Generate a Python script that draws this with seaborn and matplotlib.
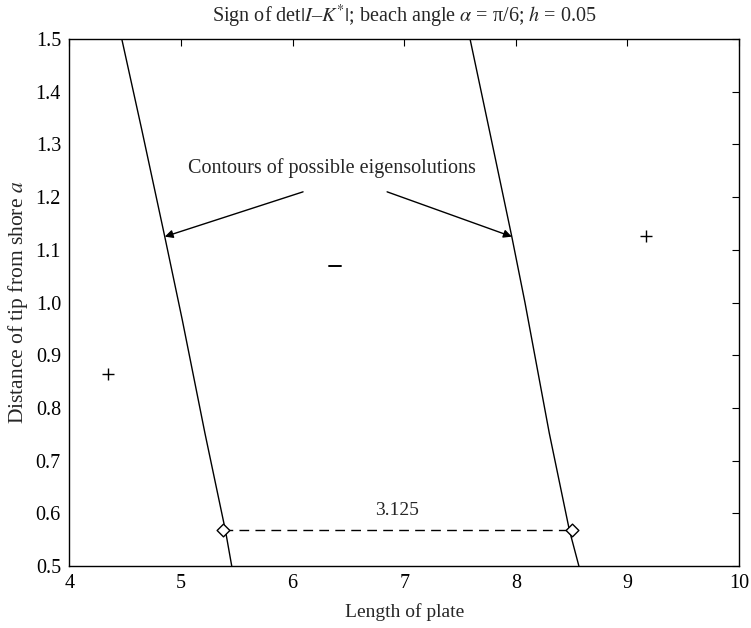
import matplotlib
matplotlib.use("Agg")
import matplotlib.pyplot as plt
import seaborn as sns
import pandas as pd

# Contours where det|I-K*| changes sign (length of plate vs tip distance)
left_a = [1.5, 1.327, 1.125, 0.967, 0.752, 0.568, 0.5]
left_len = [4.470, 4.650, 4.855, 5.012, 5.215, 5.398, 5.455]
right_a = [1.5, 1.32, 1.125, 1.0, 0.752, 0.568, 0.5]
right_len = [7.590, 7.770, 7.964, 8.082, 8.300, 8.480, 8.565]

# Spacing between the two eigensolutions at a fixed tip distance
gap_a = 0.568
gap_start = 5.375
gap_width = 3.125

# Sign markers of the determinant in each region
sign_len = [4.35, 9.17]
sign_a = [0.864, 1.126]
minus_len = 6.38
minus_a = 1.07

sns.set_theme(style="white")
plt.rcParams["font.family"] = ["Liberation Serif", "DejaVu Serif"]
plt.rcParams["mathtext.fontset"] = "stix"

fig = plt.figure(figsize=(7.51, 6.28), dpi=100)
ax = fig.add_axes([0.0923, 0.0987, 0.8918, 0.8392])

contours = pd.concat([
    pd.DataFrame({"length": left_len, "a": left_a, "branch": "left"}),
    pd.DataFrame({"length": right_len, "a": right_a, "branch": "right"}),
])
sns.lineplot(data=contours, x="length", y="a", units="branch", estimator=None,
             sort=False, color="black", lw=1.0, ax=ax, legend=False)

gap_x = [gap_start, gap_start + gap_width]
ax.plot(gap_x, [gap_a, gap_a], color="black", lw=1.0, ls=(0, (7, 4.5)))
sns.scatterplot(x=gap_x, y=[gap_a, gap_a], marker="D", s=42, facecolor="white",
                edgecolor="black", linewidth=1.0, ax=ax, zorder=5)
ax.text(sum(gap_x) / 2, 0.606, f"{gap_width:.3f}", ha="center", va="center",
        fontsize=14)

sns.scatterplot(x=sign_len, y=sign_a, marker="+", s=70, color="black",
                linewidth=1.0, ax=ax)
ax.plot([minus_len - 0.05, minus_len + 0.05], [minus_a, minus_a],
        color="black", lw=1.4)

ax.text(6.35, 1.255, "Contours of possible eigensolutions", ha="center",
        va="center", fontsize=14.5)
arrow = dict(arrowstyle="-|>", color="black", lw=1.0, mutation_scale=12,
             shrinkA=0, shrinkB=0)
ax.annotate("", xy=(4.855, 1.125), xytext=(6.094, 1.21), arrowprops=arrow)
ax.annotate("", xy=(7.964, 1.125), xytext=(6.847, 1.21), arrowprops=arrow)

ax.set_xlim(4, 10)
ax.set_ylim(0.5, 1.5)
ax.set_xticks(range(4, 11))
ax.set_yticks([0.5 + 0.1 * i for i in range(11)])
ax.set_yticklabels([f"{0.5 + 0.1 * i:.1f}" for i in range(11)])
ax.tick_params(direction="in", top=True, right=True, length=5, width=0.8,
               labelsize=14.5, colors="black", pad=6)
for s in ax.spines.values():
    s.set_color("black")
    s.set_linewidth(1.0)

ax.set_xlabel("Length of plate", fontsize=14, labelpad=7)
ax.set_ylabel("Distance of tip from shore $a$", fontsize=15.5, labelpad=4)
ax.set_title(r"Sign of det$|I$–$K^{*}|$; beach angle $\alpha$ = π/6; $h$ = 0.05",
             fontsize=14.5, pad=12)

fig.savefig("out.png", dpi=100, facecolor="white")
